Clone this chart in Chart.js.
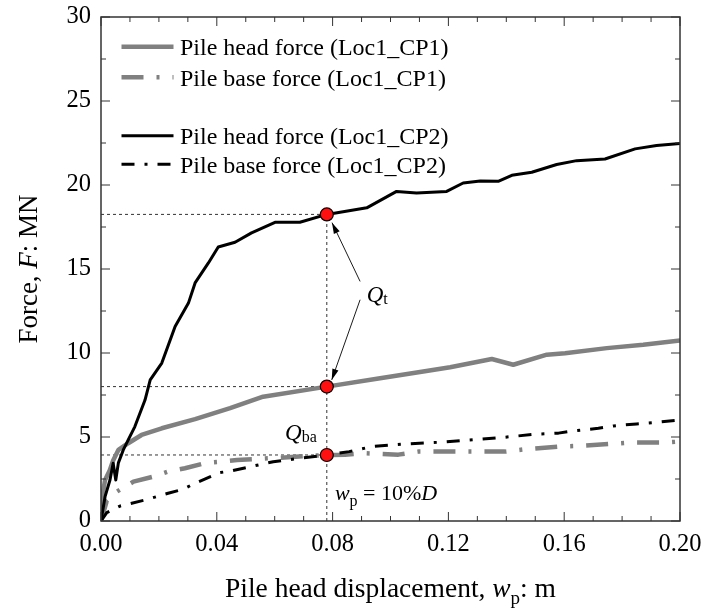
<!DOCTYPE html>
<html><head><meta charset="utf-8">
<script src="https://cdn.jsdelivr.net/npm/chart.js@4/dist/chart.umd.min.js"></script>
<style>html,body{margin:0;padding:0;background:#fff;overflow:hidden}</style>
</head><body>
<canvas id="c" width="705" height="614" style="width:705px;height:614px;display:block"></canvas>
<script>
// ---- data ----
const cp2HeadX = [0, 0.0014, 0.0031, 0.0042, 0.0051, 0.006, 0.0077, 0.0094, 0.0117, 0.0152, 0.0170, 0.021, 0.0256, 0.0302, 0.0325, 0.0371, 0.0405, 0.0463, 0.052, 0.0601, 0.0687, 0.078, 0.0918, 0.1021, 0.109, 0.1194, 0.1251, 0.131, 0.1372, 0.1419, 0.1488, 0.1574, 0.1643, 0.1741, 0.1845, 0.1919, 0.2];
const cp2HeadY = [0, 1.45, 2.44, 3.44, 2.44, 3.46, 4.23, 4.83, 5.62, 7.2, 8.4, 9.4, 11.58, 12.97, 14.17, 15.36, 16.31, 16.59, 17.15, 17.78, 17.78, 18.25, 18.64, 19.62, 19.53, 19.62, 20.12, 20.24, 20.22, 20.58, 20.76, 21.22, 21.45, 21.55, 22.15, 22.35, 22.47];

const cp1HeadX = [0, 0.0005, 0.0014, 0.003, 0.0042, 0.006, 0.0094, 0.014, 0.021, 0.0325, 0.0446, 0.056, 0.078, 0.0964, 0.1113, 0.1206, 0.135, 0.1424, 0.154, 0.1603, 0.1747, 0.1873, 0.2];
const cp1HeadY = [0, 1.5, 2.44, 3.0, 3.6, 4.23, 4.63, 5.12, 5.52, 6.06, 6.72, 7.4, 8.0, 8.5, 8.9, 9.15, 9.64, 9.3, 9.9, 9.99, 10.29, 10.49, 10.75];

const cp1BaseX = [0, 0.002, 0.0055, 0.0112, 0.018, 0.0232, 0.029, 0.0365, 0.0417, 0.047, 0.06, 0.078, 0.0843, 0.0912, 0.1027, 0.1096, 0.1286, 0.1395, 0.1465, 0.158, 0.165, 0.1764, 0.1833, 0.1949, 0.2];
const cp1BaseY = [0, 1.2, 1.75, 2.34, 2.64, 2.94, 3.14, 3.47, 3.53, 3.63, 3.75, 3.93, 3.95, 4.03, 3.95, 4.13, 4.13, 4.13, 4.27, 4.43, 4.47, 4.59, 4.67, 4.67, 4.73];

const cp2BaseX = [0, 0.002, 0.0066, 0.0152, 0.0232, 0.0284, 0.0325, 0.0411, 0.0446, 0.0595, 0.078, 0.0857, 0.0937, 0.1036, 0.1171, 0.1309, 0.1397, 0.1503, 0.158, 0.1632, 0.1718, 0.177, 0.185, 0.1908, 0.2];
const cp2BaseY = [0, 0.5, 0.89, 1.25, 1.65, 1.89, 2.25, 2.88, 2.97, 3.53, 3.93, 4.13, 4.43, 4.57, 4.69, 4.87, 4.99, 5.17, 5.23, 5.36, 5.52, 5.66, 5.78, 5.86, 6.02];

const markerX = [0.078, 0.078, 0.078];
const markerY = [18.25, 8.0, 3.93];

const xTicks = [0, 0.04, 0.08, 0.12, 0.16, 0.20];
const yTicks = [0, 5, 10, 15, 20, 25, 30];

const legendLabels = ["Pile head force (Loc1_CP1)", "Pile base force (Loc1_CP1)", "Pile head force (Loc1_CP2)", "Pile base force (Loc1_CP2)"];

// ---- helpers ----
const FONT = "'Liberation Serif','Times New Roman',Times,serif";
const pts = (xs, ys) => xs.map((x, i) => ({x: x, y: ys[i]}));
const refPts = [];
markerY.forEach((y, i) => { refPts.push({x: 0, y: y}, {x: markerX[i], y: y}, {x: markerX[i], y: null}); });
refPts.push({x: markerX[0], y: 0}, {x: markerX[0], y: Math.max(...markerY)});

const GRAY = '#808080';
const dsCp1Head = {label: legendLabels[0], data: pts(cp1HeadX, cp1HeadY), borderColor: GRAY, borderWidth: 4.5, borderDash: []};
const dsCp1Base = {label: legendLabels[1], data: pts(cp1BaseX, cp1BaseY), borderColor: GRAY, borderWidth: 4.5, borderDash: [22, 13, 3, 13]};
const dsCp2Head = {label: legendLabels[2], data: pts(cp2HeadX, cp2HeadY), borderColor: '#000', borderWidth: 3, borderDash: []};
const dsCp2Base = {label: legendLabels[3], data: pts(cp2BaseX, cp2BaseY), borderColor: '#000', borderWidth: 3, borderDash: [13, 10, 3, 10]};
[dsCp1Head, dsCp1Base, dsCp2Head, dsCp2Base].forEach(d => { d.showLine = true; d.pointRadius = 0; d.fill = false; d.tension = 0; d.borderJoinStyle = 'round'; });

const markersDs = {label: 'markers', data: pts(markerX, markerY), showLine: false, pointRadius: 6.5, pointBackgroundColor: '#ff1010', pointBorderColor: '#000', pointBorderWidth: 1.2};
const refDs = {label: 'refs', data: refPts, showLine: true, spanGaps: false, pointRadius: 0, borderColor: '#333', borderWidth: 1, borderDash: [3, 3]};

function richText(ctx, parts, x, y) {
  let cx = x;
  parts.forEach(p => {
    ctx.font = (p.italic ? 'italic ' : '') + p.size + 'px ' + FONT;
    ctx.fillText(p.t, cx, y + (p.dy || 0));
    cx += ctx.measureText(p.t).width;
  });
  return cx - x;
}
function richWidth(ctx, parts) {
  let w = 0;
  parts.forEach(p => { ctx.font = (p.italic ? 'italic ' : '') + p.size + 'px ' + FONT; w += ctx.measureText(p.t).width; });
  return w;
}
function arrow(ctx, x1, y1, x2, y2) {
  ctx.beginPath(); ctx.moveTo(x1, y1); ctx.lineTo(x2, y2); ctx.stroke();
  const a = Math.atan2(y2 - y1, x2 - x1), L = 11, W = 3.2;
  ctx.beginPath();
  ctx.moveTo(x2, y2);
  ctx.lineTo(x2 - L * Math.cos(a) + W * Math.sin(a), y2 - L * Math.sin(a) - W * Math.cos(a));
  ctx.lineTo(x2 - L * Math.cos(a) - W * Math.sin(a), y2 - L * Math.sin(a) + W * Math.cos(a));
  ctx.closePath(); ctx.fill();
}

const decor = {
  id: 'decor',
  afterDraw(chart) {
    const ctx = chart.ctx, xs = chart.scales.x, ys = chart.scales.y, a = chart.chartArea;
    ctx.save();
    // frame
    ctx.strokeStyle = '#333'; ctx.lineWidth = 1.5; ctx.setLineDash([]);
    ctx.strokeRect(a.left, a.top, a.right - a.left, a.bottom - a.top);
    // ticks (inward, all sides)
    ctx.lineWidth = 1;
    ctx.beginPath();
    for (let k = 0; k <= 20; k++) {
      const v = k * 0.01, px = xs.getPixelForValue(v), len = (k % 4 === 0) ? 9 : 5;
      ctx.moveTo(px, a.bottom); ctx.lineTo(px, a.bottom - len);
      ctx.moveTo(px, a.top); ctx.lineTo(px, a.top + len);
    }
    for (let k = 0; k <= 12; k++) {
      const v = k * 2.5, py = ys.getPixelForValue(v), len = (k % 2 === 0) ? 9 : 5;
      ctx.moveTo(a.left, py); ctx.lineTo(a.left + len, py);
      ctx.moveTo(a.right, py); ctx.lineTo(a.right - len, py);
    }
    ctx.stroke();

    // legend
    const rows = [46.7, 77.3, 135.7, 164.3];
    const dss = [dsCp1Head, dsCp1Base, dsCp2Head, dsCp2Base];
    dss.forEach((d, i) => {
      ctx.strokeStyle = d.borderColor; ctx.lineWidth = d.borderWidth; ctx.setLineDash(d.borderDash); ctx.lineCap = 'butt';
      ctx.beginPath(); ctx.moveTo(121.5, rows[i]); ctx.lineTo(173.5, rows[i]); ctx.stroke();
      ctx.setLineDash([]);
      ctx.fillStyle = '#000'; ctx.font = '24px ' + FONT; ctx.textBaseline = 'alphabetic'; ctx.textAlign = 'left';
      ctx.fillText(d.label, 180, rows[i] + 8.5);
    });

    // arrows for Q_t
    ctx.strokeStyle = '#000'; ctx.fillStyle = '#000'; ctx.lineWidth = 0.9; ctx.setLineDash([]);
    arrow(ctx, xs.getPixelForValue(0.0895), ys.getPixelForValue(14.26), xs.getPixelForValue(0.0798), ys.getPixelForValue(17.76));
    arrow(ctx, xs.getPixelForValue(0.0895), ys.getPixelForValue(13.17), xs.getPixelForValue(0.0797), ys.getPixelForValue(8.4));

    // annotations
    ctx.fillStyle = '#000'; ctx.textAlign = 'left'; ctx.textBaseline = 'alphabetic';
    richText(ctx, [{t: 'Q', italic: true, size: 23}, {t: 't', size: 16, dy: 2}], xs.getPixelForValue(0.0918), ys.getPixelForValue(13.05));
    richText(ctx, [{t: 'Q', italic: true, size: 23}, {t: 'ba', size: 16, dy: 2}], xs.getPixelForValue(0.0636), ys.getPixelForValue(4.83));
    richText(ctx, [{t: 'w', italic: true, size: 22}, {t: 'p', size: 16, dy: 6}, {t: ' = 10%', size: 22}, {t: 'D', italic: true, size: 22}], xs.getPixelForValue(0.0808), ys.getPixelForValue(1.25));

    // axis titles
    const xt = [{t: 'Pile head displacement, ', size: 27.5}, {t: 'w', italic: true, size: 27.5}, {t: 'p', size: 19, dy: 7}, {t: ': m', size: 27.5}];
    const xw = richWidth(ctx, xt);
    richText(ctx, xt, (a.left + a.right) / 2 - xw / 2, 597);
    const yt = [{t: 'Force, ', size: 27}, {t: 'F', italic: true, size: 27}, {t: ': MN', size: 27}];
    const yw = richWidth(ctx, yt);
    ctx.save();
    ctx.translate(37, (a.top + a.bottom) / 2);
    ctx.rotate(-Math.PI / 2);
    richText(ctx, yt, -yw / 2, 0);
    ctx.restore();
    ctx.restore();
  }
};

function fixPad(s) { s.paddingLeft = 0; s.paddingRight = 0; s.paddingTop = 0; s.paddingBottom = 0; }

new Chart(document.getElementById('c'), {
  type: 'scatter',
  data: {datasets: [markersDs, dsCp2Head, dsCp2Base, dsCp1Head, dsCp1Base, refDs]},
  options: {
    responsive: false, animation: false, devicePixelRatio: 1, events: [],
    layout: {padding: {left: 0, top: 17, right: 25, bottom: 0}},
    plugins: {legend: {display: false}, tooltip: {enabled: false}},
    scales: {
      x: {
        type: 'linear', min: 0, max: 0.2,
        afterFit: s => { s.height = 93; fixPad(s); },
        afterBuildTicks: s => { s.ticks = xTicks.map(v => ({value: v})); },
        grid: {display: false, drawTicks: false}, border: {display: false},
        ticks: {padding: 9, color: '#000', font: {family: FONT, size: 24.5}, callback: v => Number(v).toFixed(2), maxRotation: 0, autoSkip: false}
      },
      y: {
        type: 'linear', min: 0, max: 30,
        afterFit: s => { s.width = 101; fixPad(s); },
        afterBuildTicks: s => { s.ticks = yTicks.map(v => ({value: v})); },
        grid: {display: false, drawTicks: false}, border: {display: false},
        ticks: {padding: 10, color: '#000', font: {family: FONT, size: 24.5}, callback: v => String(v), autoSkip: false}
      }
    }
  },
  plugins: [decor]
});
</script>
</body></html>
